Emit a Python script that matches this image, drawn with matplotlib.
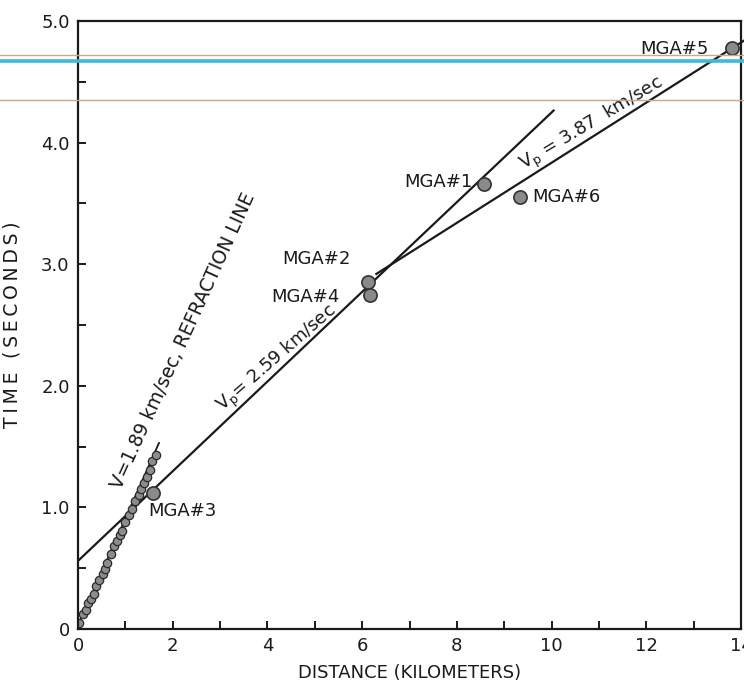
import matplotlib
matplotlib.use('Agg')
import matplotlib.pyplot as plt
from matplotlib.lines import Line2D
from matplotlib.ticker import MultipleLocator, FixedLocator

plt.rcParams['font.family'] = 'DejaVu Sans'
plt.rcParams['mathtext.default'] = 'regular'

# station picks (distance km, time s)
mga_names = ['MGA#1', 'MGA#2', 'MGA#3', 'MGA#4', 'MGA#5', 'MGA#6']
mga_dist = [8.58, 6.13, 1.58, 6.17, 13.80, 9.34]
mga_time = [3.66, 2.85, 1.12, 2.75, 4.78, 3.55]

# refraction line beads
refr_dist = [0.03, 0.11, 0.16, 0.22, 0.27, 0.33, 0.38, 0.45, 0.52, 0.56, 0.61,
             0.70, 0.77, 0.82, 0.88, 0.93, 1.00, 1.07, 1.14, 1.21, 1.28, 1.34,
             1.39, 1.46, 1.51, 1.57, 1.64]
refr_time = [0.05, 0.12, 0.16, 0.21, 0.25, 0.29, 0.35, 0.40, 0.45, 0.49, 0.54,
             0.62, 0.68, 0.72, 0.77, 0.81, 0.88, 0.94, 0.99, 1.05, 1.10, 1.15,
             1.20, 1.25, 1.31, 1.38, 1.43]
refr_line_dist = [0.0, 1.71]
refr_line_time = [0.03, 1.53]

# fitted velocity lines
vp259_dist = [0.0, 10.06]
vp259_time = [0.56, 4.27]
vp387_dist = [6.30, 14.15]
vp387_time = [2.92, 4.86]

x_ticks = [0, 2, 4, 6, 8, 10, 12, 14]
x_labels = ['0', '2', '4', '6', '8', '10', '12', '14']
y_ticks = [0, 1, 2, 3, 4, 5]
y_labels = ['0', '1.0', '2.0', '3.0', '4.0', '5.0']

fig = plt.figure(figsize=(7.44, 6.94), dpi=100)
fig.patch.set_facecolor('white')
ax = fig.add_axes([78 / 744, 65 / 694, 663 / 744, 608 / 694])
ax.set_xlim(0, 14)
ax.set_ylim(0, 5)

ink = '#1a1a1a'
for s in ax.spines.values():
    s.set_linewidth(1.6)
    s.set_color(ink)

ax.xaxis.set_major_locator(FixedLocator(x_ticks))
ax.set_xticklabels(x_labels)
ax.xaxis.set_minor_locator(MultipleLocator(1))
ax.yaxis.set_major_locator(FixedLocator(y_ticks))
ax.set_yticklabels(y_labels)
ax.yaxis.set_minor_locator(MultipleLocator(0.5))
ax.tick_params(which='both', direction='in', length=6, width=1.4, color=ink,
               top=False, right=False)
ax.tick_params(axis='both', labelsize=13, labelcolor=ink, pad=6)

ax.set_xlabel('DISTANCE (KILOMETERS)', fontsize=13, color=ink, labelpad=6)
ax.set_ylabel('\u2009'.join('TIME (SECONDS)'), fontsize=13.5, color=ink, labelpad=14)

# lines
ax.plot(vp259_dist, vp259_time, color=ink, lw=1.6, solid_capstyle='butt')
ax.plot(vp387_dist, vp387_time, color=ink, lw=1.6, clip_on=False)
ax.plot(refr_line_dist, refr_line_time, color=ink, lw=1.3)
ax.plot(refr_dist, refr_time, 'o', ms=6, mfc='#8c8c8c', mec='#2a2a2a', mew=0.9)

# stations
ax.plot(mga_dist, mga_time, 'o', ms=9.5, mfc='#8a8a8a', mec='#333333', mew=1.2,
        clip_on=False, zorder=4)

lab = dict(fontsize=13, color=ink, va='center')
ax.text(8.33, 3.68, 'MGA#1', ha='right', **lab)
ax.text(5.76, 3.04, 'MGA#2', ha='right', **lab)
ax.text(1.49, 0.97, 'MGA#3', ha='left', **lab)
ax.text(5.53, 2.73, 'MGA#4', ha='right', **lab)
ax.text(13.32, 4.77, 'MGA#5', ha='right', **lab)
ax.text(9.60, 3.55, 'MGA#6', ha='left', **lab)

rot = dict(color=ink, ha='center', va='center', rotation_mode='anchor')
ax.text(2.22, 2.37, 'V=1.89 km/sec, REFRACTION LINE', rotation=65.5, fontsize=13.5, **rot)
ax.text(4.22, 2.22, 'V$_{p}$= 2.59 km/sec', rotation=41, fontsize=13, **rot)
ax.text(10.85, 4.15, 'V$_{p}$ = 3.87  km/sec', rotation=31, fontsize=13, **rot)

# scanner streaks across the sheet
fig.add_artist(Line2D([0, 1], [1 - 55 / 694] * 2, color='#c9a68c', lw=1.0, zorder=10))
fig.add_artist(Line2D([0, 1], [1 - 60.5 / 694] * 2, color='#3cb8e2', lw=2.6, zorder=10))
fig.add_artist(Line2D([0, 1], [1 - 99.5 / 694] * 2, color='#c9a68c', lw=1.0, zorder=10))

fig.savefig('out.png', dpi=100, facecolor='white')
